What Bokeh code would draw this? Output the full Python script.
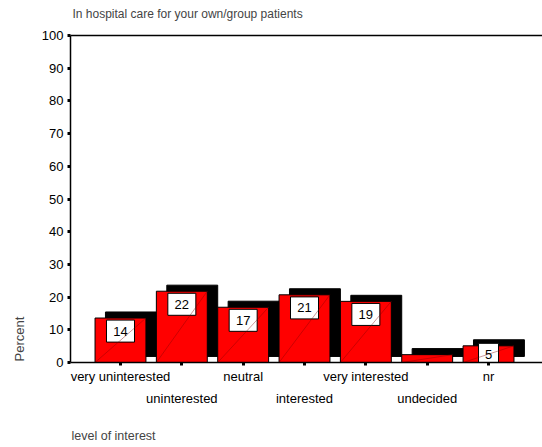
from bokeh.plotting import figure
from bokeh.models import LinearAxis, FixedTicker, Title, ColumnDataSource, Range1d
from bokeh.core.properties import value
from bokeh.embed import file_html
from bokeh.resources import INLINE

# ---- data ----
categories = ["very uninterested", "uninterested", "neutral", "interested",
              "very interested", "undecided", "nr"]
percent = [13.6, 21.8, 16.9, 20.7, 18.7, 2.4, 5.1]
value_labels = ["14", "22", "17", "21", "19", "", "5"]
y_ticks = [0, 10, 20, 30, 40, 50, 60, 70, 80, 90, 100]
title_text = "In hospital care for your own/group patients"
x_title = "level of interest"
y_title = "Percent"

# ---- style ----
FONT = "Liberation Sans"
BAR_W = 0.83      # front face width (category units)
DX = 0.17         # depth offset x (category units)
DY = 1.85         # depth offset y (percent units)

xs = list(range(len(categories)))
fl = [i - BAR_W / 2 for i in xs]
fr = [i + BAR_W / 2 for i in xs]

back = ColumnDataSource(dict(left=[v + DX for v in fl], right=[v + DX for v in fr],
                             bottom=[DY] * len(xs), top=[v + DY for v in percent]))
front = ColumnDataSource(dict(left=fl, right=fr, bottom=[0] * len(xs), top=percent))

lab_x, lab_y, lab_t, lab_w = [], [], [], []
for i, (v, t) in enumerate(zip(percent, value_labels)):
    if t:
        lab_x.append(i)
        lab_y.append(max(v - 4.0, 2.5))
        lab_t.append(t)
        lab_w.append(12 + 8 * len(t))
labels = ColumnDataSource(dict(x=lab_x, y=lab_y, text=lab_t, w=lab_w))

p = figure(width=542, height=447, output_backend="svg", toolbar_location=None,
           x_range=Range1d(-0.815, 6.88), y_range=Range1d(0, 100),
           min_border_left=70, min_border_top=35, min_border_bottom=85,
           min_border_right=0, x_axis_location=None, y_axis_location=None)
p.grid.visible = False
p.outline_line_color = None
p.background_fill_color = "white"
p.border_fill_color = "white"

# bars
p.quad(left="left", right="right", bottom="bottom", top="top", source=back,
       fill_color="black", line_color="black", line_width=1)
p.quad(left="left", right="right", bottom="bottom", top="top", source=front,
       fill_color="#ff0000", line_color="black", line_width=1)
p.rect(x="x", y="y", width="w", height=22, width_units="screen", height_units="screen",
       source=labels, fill_color="white", line_color="black", line_width=1)
p.segment(x0=fl, y0=[0] * len(xs), x1=fr, y1=percent,
          line_color="#800000", line_alpha=0.4, line_width=1)
p.text(x="x", y="y", text="text", source=labels, text_align="center",
       text_baseline="middle", text_font=value(FONT), text_font_size="13px",
       text_color="black")


def spacer(size, line=None, width=1.5):
    # an axis whose only job is to reserve `size` pixels (invisible tick)
    return LinearAxis(ticker=FixedTicker(ticks=[0]), axis_line_color=line,
                      axis_line_width=width, major_tick_out=size, major_tick_in=0,
                      major_tick_line_color=None,
                      minor_tick_out=0, minor_tick_in=0, major_label_standoff=0,
                      major_label_overrides={0: ""},
                      major_label_text_font_size="0px")


# y axis
yaxis = LinearAxis(ticker=FixedTicker(ticks=y_ticks), axis_line_color="black",
                   axis_line_width=1.5, major_tick_out=3, major_tick_in=0,
                   major_tick_line_width=3, minor_tick_out=0, minor_tick_in=0,
                   major_label_standoff=4, major_label_text_font=FONT,
                   major_label_text_font_size="13px", major_label_text_color="black")
p.add_layout(yaxis, "left")
p.add_layout(spacer(12), "left")
p.add_layout(Title(text=y_title, align="left", offset=1, text_font=FONT,
                   text_font_size="13px", text_font_style="normal", standoff=0), "left")

# top line (+ spacing) and chart title
p.add_layout(spacer(15, line="black"), "above")
p.add_layout(Title(text=title_text, align="left", offset=2, text_font=FONT,
                   text_font_size="12px", text_font_style="normal", standoff=0), "above")

# x axes (staggered labels)
odd = {i: (c if i % 2 == 0 else "") for i, c in enumerate(categories)}
even = {i: (c if i % 2 == 1 else "") for i, c in enumerate(categories)}
xaxis1 = LinearAxis(ticker=FixedTicker(ticks=xs), axis_line_color="black",
                    axis_line_width=1.5, major_tick_out=3, major_tick_in=0,
                    major_tick_line_width=3, minor_tick_out=0, minor_tick_in=0,
                    major_label_standoff=3, major_label_overrides=odd,
                    major_label_text_font=FONT, major_label_text_font_size="13px",
                    major_label_text_color="black")
xaxis2 = LinearAxis(ticker=FixedTicker(ticks=xs), axis_line_color=None,
                    major_tick_line_color=None, major_tick_out=0, major_tick_in=0,
                    minor_tick_out=0, minor_tick_in=0,
                    major_label_standoff=4, major_label_overrides=even,
                    major_label_text_font=FONT, major_label_text_font_size="13px",
                    major_label_text_color="black")
p.add_layout(xaxis1, "below")
p.add_layout(xaxis2, "below")
p.add_layout(spacer(18), "below")
p.add_layout(Title(text=x_title, align="left", offset=1, text_font=FONT,
                   text_font_size="12.5px", text_font_style="normal", standoff=0), "below")

open("out.html", "w").write(file_html(p, INLINE))
